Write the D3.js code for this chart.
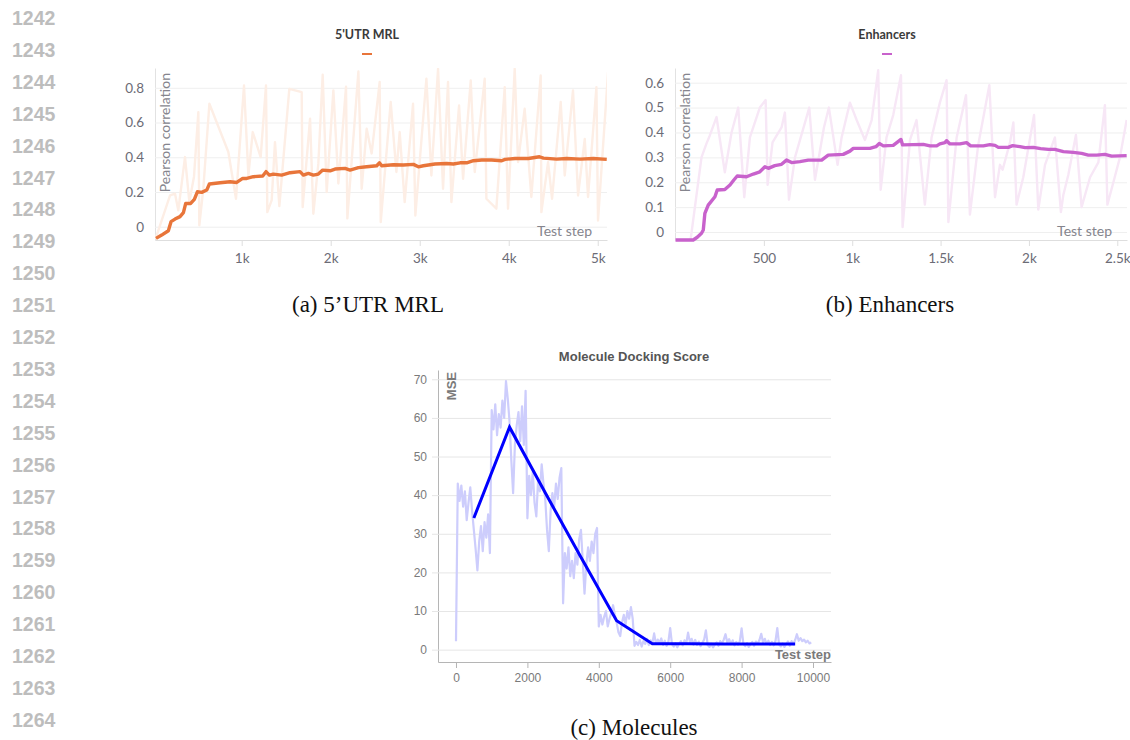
<!DOCTYPE html>
<html>
<head>
  <meta charset="utf-8">
  <title>Test step curves</title>
  <script src="https://cdn.jsdelivr.net/npm/d3@7"></script>
  <style>
    body { margin: 0; background: #fff; }
    .lineno { font-family: "Liberation Sans", Arial, sans-serif; font-weight: bold; font-size: 19.5px; fill: #bdbdbd; }
    .caption { font-family: "Liberation Serif", "Times New Roman", serif; font-size: 23px; fill: #111; }
    .wb text { font-family: Lato, "Noto Sans", sans-serif; }
    .wb .tick text { font-size: 13.5px; fill: #6c6c76; }
    .wb .title { font-size: 12.5px; font-weight: bold; fill: #3a3a3a; }
    .wb .axis-label { font-size: 14px; fill: #85858d; }
    .mol text { font-family: "Liberation Sans", Arial, sans-serif; }
    .mol .tick text { font-size: 12px; fill: #7a7a7a; }
    .mol .title { font-size: 13px; font-weight: bold; fill: #555; }
    .mol .axis-label { font-size: 13px; font-weight: bold; fill: #7a7a7a; }
  </style>
</head>
<body>
<div class="container"></div>
<script>
'use strict';
var width = 1130;
var height = 740;

// ---- 5'UTR MRL (smoothed + raw) ----
var utrSteps = [37, 101, 176, 206, 251, 307, 345, 371, 427, 468, 502, 551, 607, 637, 757, 869, 944, 1011, 1056, 1131,
  1236, 1273, 1311, 1356, 1449, 1543, 1655, 1693, 1749, 1805, 1861, 1910, 1993, 2049, 2161, 2217, 2311, 2404, 2517, 2547,
  2573, 2704, 2816, 2929, 2985, 3041, 3172, 3303, 3378, 3453, 3528, 3603, 3697, 3809, 3921, 3959, 4071, 4221, 4345, 4390,
  4539, 4652, 4801, 4951, 5101];
var utrValues = [-0.067, -0.048, -0.023, 0.029, 0.044, 0.058, 0.081, 0.134, 0.134, 0.157, 0.201, 0.198, 0.211, 0.246, 0.253, 0.259, 0.255, 0.278, 0.278, 0.288,
  0.292, 0.317, 0.297, 0.303, 0.297, 0.311, 0.317, 0.297, 0.307, 0.297, 0.303, 0.326, 0.322, 0.332, 0.336, 0.326, 0.340, 0.345, 0.351, 0.368,
  0.351, 0.357, 0.355, 0.359, 0.345, 0.351, 0.361, 0.364, 0.361, 0.368, 0.368, 0.380, 0.384, 0.384, 0.380, 0.388, 0.393, 0.393, 0.403, 0.395,
  0.389, 0.393, 0.389, 0.393, 0.388];
var utrRawSteps = [7, 45, 195, 251, 288, 363, 412, 464, 513, 524, 569, 637, 850, 936, 1026, 1075, 1124, 1213, 1273, 1288,
  1337, 1374, 1423, 1535, 1674, 1685, 1768, 1805, 1861, 1910, 1955, 2030, 2086, 2172, 2187, 2311, 2348, 2404, 2460, 2550,
  2562, 2674, 2738, 2775, 2831, 2925, 2951, 3075, 3131, 3206, 3262, 3318, 3356, 3442, 3487, 3573, 3618, 3730, 3749, 3861,
  3955, 3992, 4067, 4105, 4179, 4254, 4359, 4367, 4442, 4487, 4584, 4629, 4722, 4779, 4854, 4891, 4985, 5003, 5116];
var utrRawValues = [-0.077, -0.050, 0.180, 0.190, 0.094, 0.401, 0.142, 0.288, 0.660, 0.008, 0.219, 0.708, 0.430, 0.161, 0.813, 0.295, 0.545, 0.401, 0.813, 0.084,
  0.153, 0.487, 0.119, 0.794, 0.775, 0.113, 0.622, 0.075, 0.363, 0.875, 0.200, 0.785, 0.249, 0.806, 0.048, 0.894, 0.219, 0.564, 0.422, 0.833,
  0.027, 0.718, 0.315, 0.545, 0.142, 0.708, 0.065, 0.852, 0.295, 0.909, 0.219, 0.833, 0.142, 0.698, 0.276, 0.842, 0.315, 0.852, 0.161, 0.104,
  0.804, 0.104, 0.909, 0.372, 0.679, 0.171, 0.871, 0.084, 0.372, 0.161, 0.718, 0.295, 0.785, 0.180, 0.506, 0.171, 0.804, 0.036, 0.890];
var utrXTicks = [1000, 2000, 3000, 4000, 5000];
var utrYTicks = [0, 0.2, 0.4, 0.6, 0.8];

// ---- Enhancers (smoothed + raw) ----
var enhSteps = [0, 100, 123, 147, 157, 166, 185, 223, 236, 279, 308, 330, 349, 402, 440, 477, 506, 525, 562, 600,
  628, 657, 704, 751, 827, 864, 949, 987, 1006, 1100, 1134, 1153, 1176, 1232, 1276, 1285, 1345, 1402, 1440, 1478,
  1496, 1525, 1534, 1553, 1610, 1647, 1670, 1742, 1779, 1808, 1827, 1883, 1908, 1949, 1978, 2025, 2066, 2110, 2147, 2195,
  2251, 2298, 2336, 2383, 2430, 2468, 2553];
var enhValues = [-0.032, -0.032, -0.021, -0.005, 0.008, 0.075, 0.108, 0.142, 0.169, 0.171, 0.189, 0.209, 0.225, 0.222, 0.233, 0.242, 0.262, 0.256, 0.267, 0.272,
  0.289, 0.279, 0.283, 0.289, 0.289, 0.309, 0.312, 0.325, 0.336, 0.336, 0.343, 0.356, 0.346, 0.348, 0.372, 0.350, 0.351, 0.352, 0.346, 0.346,
  0.354, 0.359, 0.367, 0.354, 0.354, 0.359, 0.346, 0.346, 0.351, 0.348, 0.340, 0.340, 0.347, 0.343, 0.339, 0.340, 0.335, 0.332, 0.332, 0.323,
  0.320, 0.316, 0.309, 0.309, 0.312, 0.305, 0.307];
var enhRawSteps = [0, 85, 147, 175, 194, 232, 279, 317, 355, 389, 421, 477, 510, 521, 549, 600, 619, 642, 676, 757,
  789, 840, 868, 917, 940, 987, 1025, 1072, 1110, 1147, 1161, 1194, 1232, 1276, 1285, 1327, 1364, 1411, 1449, 1496,
  1534, 1544, 1591, 1644, 1666, 1713, 1776, 1808, 1836, 1851, 1893, 1912, 1930, 1968, 2029, 2053, 2091, 2147, 2181, 2195,
  2223, 2266, 2298, 2346, 2393, 2430, 2444, 2478, 2515, 2553];
var enhRawValues = [-0.032, -0.032, 0.300, 0.355, 0.388, 0.462, 0.240, 0.400, 0.500, 0.140, 0.380, 0.500, 0.530, 0.190, 0.360, 0.420, 0.480, 0.130, 0.300, 0.500,
  0.210, 0.420, 0.500, 0.270, 0.380, 0.520, 0.450, 0.370, 0.450, 0.650, 0.170, 0.380, 0.470, 0.630, 0.020, 0.370, 0.450, 0.110, 0.380, 0.520,
  0.610, 0.040, 0.380, 0.550, 0.070, 0.350, 0.590, 0.140, 0.270, 0.250, 0.360, 0.440, 0.110, 0.220, 0.470, 0.090, 0.270, 0.380, 0.080, 0.150,
  0.230, 0.390, 0.100, 0.220, 0.280, 0.510, 0.110, 0.200, 0.300, 0.450];
var enhXTicks = [500, 1000, 1500, 2000, 2500];
var enhYTicks = [0, 0.1, 0.2, 0.3, 0.4, 0.5, 0.6];

// ---- Molecule docking score ----
var dockRawEvery = 50; // raw MSE logged every 50 test steps
var dockRaw = [2.2, 43, 38.5, 42.5, 37, 41, 33.5, 38, 42, 36, 31, 26, 20.5, 28, 32, 25.5, 33, 29, 35, 25,
  62, 57, 63.5, 55.5, 61, 57.5, 64.5, 60, 69.5, 65, 59, 49, 40.5, 53, 58, 61.5, 54, 63, 53, 67,
  34, 45, 40, 46, 38, 34.5, 44, 41, 48, 43, 39, 31, 25.5, 36, 40.5, 37, 43, 39, 44.5, 47,
  12, 25, 21, 26.5, 19, 23, 18.5, 25, 22, 28.5, 31, 23, 14.5, 22, 26.5, 23, 28, 25, 30, 31.5,
  6, 9, 6.5, 8.5, 10, 6, 8, 9.5, 11.5, 9, 7, 4.5, 3.5, 7, 9, 6.5, 10, 8, 11, 8,
  1, 2, 1.2, 2.5, 0.8, 2.2, 1.5, 2.8, 1.2, 2.4, 1.6, 4.2, 1.5, 2.6, 1.8, 2.9, 1.2, 2.3, 1.0, 2.1,
  5.6, 1.4, 0.8, 1.6, 0.6, 1.5, 2.2, 1.1, 2.4, 1.6, 4.4, 2.0, 2.8, 1.3, 2.5, 1.2, 2.1, 0.9, 1.8, 2.6,
  5.0, 1.2, 0.7, 1.5, 0.6, 1.3, 1.9, 1.0, 2.2, 1.6, 2.6, 4.0, 1.8, 2.7, 1.4, 2.4, 1.1, 2.0, 1.3, 2.2,
  5.5, 1.5, 0.9, 1.7, 0.7, 1.4, 2.0, 1.0, 2.1, 1.5, 2.5, 4.1, 1.9, 2.8, 1.5, 2.3, 1.2, 2.0, 1.1, 2.3,
  5.6, 1.3, 0.8, 1.6, 0.7, 1.5, 2.1, 1.0, 2.2, 1.4, 2.5, 4.0, 2.3, 3.0, 2.2, 2.6, 1.9, 2.3, 1.6, 1.9];
var dockMeanSteps = [500, 1500, 2500, 3500, 4500, 5500, 6500, 7500, 8500, 9500];
var dockMean = [34.1, 57.6, 40.6, 23.9, 7.5, 1.5, 1.5, 1.45, 1.45, 1.45];
var dockXTicks = [0, 2000, 4000, 6000, 8000, 10000];
var dockYTicks = [0, 10, 20, 30, 40, 50, 60, 70];

var lineNumbers = d3.range(1242, 1265);
var captions = [
  { text: '(a) 5\u2019UTR MRL', x: 368, y: 312 },
  { text: '(b) Enhancers', x: 890, y: 312 },
  { text: '(c) Molecules', x: 634, y: 735 }
];

var svg = d3.select('.container')
  .append('svg')
  .attr('width', width)
  .attr('height', height)
  .style('display', 'block');

svg.append('rect').attr('width', width).attr('height', height).attr('fill', '#fff');

// margin line numbers
svg.selectAll('text.lineno')
  .data(lineNumbers)
  .enter().append('text')
  .attr('class', 'lineno')
  .attr('x', 12)
  .attr('y', function (d, i) { return 25 + i * 31.9; })
  .text(function (d) { return d; });

svg.selectAll('text.caption')
  .data(captions)
  .enter().append('text')
  .attr('class', 'caption')
  .attr('text-anchor', 'middle')
  .attr('x', function (d) { return d.x; })
  .attr('y', function (d) { return d.y; })
  .text(function (d) { return d.text; });

function zip(xs, ys) {
  return xs.map(function (s, i) { return [s, ys[i]]; });
}

// wandb style panel
function wandbPanel(o) {
  var g = svg.append('g').attr('class', 'wb');
  var x = d3.scaleLinear().domain(o.xDomain).range([o.left, o.right]);
  var y = d3.scaleLinear().domain(o.yDomain).range([o.bottom, o.top]);

  g.append('text').attr('class', 'title')
    .attr('x', o.titleX).attr('y', 39).attr('text-anchor', 'middle').text(o.title);
  g.append('line')
    .attr('x1', o.titleX - 5).attr('x2', o.titleX + 5)
    .attr('y1', 54).attr('y2', 54)
    .attr('stroke', o.color).attr('stroke-width', 2);

  var yAxis = g.append('g')
    .attr('transform', 'translate(' + o.left + ',0)')
    .call(d3.axisLeft(y).tickValues(o.yTicks).tickSize(-(o.right - o.left)).tickSizeOuter(0)
      .tickPadding(11).tickFormat(function (d) { return d === 0 ? '0' : d3.format('.1f')(d); }));
  yAxis.select('.domain').attr('stroke', '#e2e2e2');
  yAxis.selectAll('.tick line').attr('stroke', '#efefef');

  var xAxis = g.append('g')
    .attr('transform', 'translate(0,' + o.bottom + ')')
    .call(d3.axisBottom(x).tickValues(o.xTicks).tickSize(6).tickSizeOuter(0).tickPadding(7)
      .tickFormat(function (d) { return d < 1000 ? d : (d / 1000) + 'k'; }));
  xAxis.select('.domain').attr('stroke', '#dedede');
  xAxis.selectAll('.tick line').attr('stroke', '#dedede');

  var clipId = 'clip-' + o.key;
  svg.append('clipPath').attr('id', clipId).append('rect')
    .attr('x', o.left).attr('y', o.top)
    .attr('width', o.right - o.left).attr('height', o.bottom - o.top + 2);

  var line = d3.line().x(function (d) { return x(d[0]); }).y(function (d) { return y(d[1]); });
  var plot = g.append('g').attr('clip-path', 'url(#' + clipId + ')');
  plot.append('path').datum(o.raw)
    .attr('d', line).attr('fill', 'none')
    .attr('stroke', o.faint).attr('stroke-width', 2.4).attr('stroke-linejoin', 'round');
  plot.append('path').datum(o.smooth)
    .attr('d', line).attr('fill', 'none')
    .attr('stroke', o.color).attr('stroke-width', 3.4).attr('stroke-linejoin', 'round');

  g.append('text').attr('class', 'axis-label')
    .attr('transform', 'translate(' + (o.left + 15) + ',' + (o.top + 5) + ') rotate(-90)')
    .attr('text-anchor', 'end').text('Pearson correlation');
  g.append('text').attr('class', 'axis-label')
    .attr('x', o.right - 15).attr('y', o.bottom - 4)
    .attr('text-anchor', 'end').text('Test step');
}

wandbPanel({
  key: 'utr', title: "5'UTR MRL", titleX: 367,
  left: 155, right: 607, top: 68, bottom: 240,
  xDomain: [26, 5104], yDomain: [-0.0765, 0.914],
  xTicks: utrXTicks, yTicks: utrYTicks,
  color: '#e8753a', faint: '#fdeee5',
  smooth: zip(utrSteps, utrValues), raw: zip(utrRawSteps, utrRawValues)
});

wandbPanel({
  key: 'enh', title: 'Enhancers', titleX: 887,
  left: 675, right: 1127, top: 68, bottom: 240,
  xDomain: [-3, 2555], yDomain: [-0.032, 0.659],
  xTicks: enhXTicks, yTicks: enhYTicks,
  color: '#c862cc', faint: '#f7e7f6',
  smooth: zip(enhSteps, enhValues), raw: zip(enhRawSteps, enhRawValues)
});

// molecule docking panel
(function () {
  var left = 438, right = 831, top = 370, bottom = 662;
  var g = svg.append('g').attr('class', 'mol');
  var x = d3.scaleLinear().domain([-504, 10504]).range([left, right]);
  var y = d3.scaleLinear().domain([-3.2, 72.4]).range([bottom, top]);

  g.append('text').attr('class', 'title')
    .attr('x', 634).attr('y', 361).attr('text-anchor', 'middle').text('Molecule Docking Score');

  var yAxis = g.append('g')
    .attr('transform', 'translate(' + left + ',0)')
    .call(d3.axisLeft(y).tickValues(dockYTicks).tickSize(-(right - left)).tickSizeOuter(0).tickPadding(11));
  yAxis.select('.domain').attr('stroke', '#b5b5b5');
  yAxis.selectAll('.tick line').attr('stroke', '#e6e6e6').attr('x1', -6);

  var xAxis = g.append('g')
    .attr('transform', 'translate(0,' + bottom + ')')
    .call(d3.axisBottom(x).tickValues(dockXTicks).tickSize(6).tickSizeOuter(0).tickPadding(5)
      .tickFormat(d3.format('d')));
  xAxis.select('.domain').attr('stroke', '#b5b5b5');
  xAxis.selectAll('.tick line').attr('stroke', '#b5b5b5');

  var line = d3.line().x(function (d) { return x(d[0]); }).y(function (d) { return y(d[1]); });
  var raw = dockRaw.map(function (v, i) { return [i * dockRawEvery, v]; });
  g.append('path').datum(raw)
    .attr('d', line).attr('fill', 'none')
    .attr('stroke', '#cdcdfc').attr('stroke-width', 2.2).attr('stroke-linejoin', 'round');
  g.append('path').datum(zip(dockMeanSteps, dockMean))
    .attr('d', line).attr('fill', 'none')
    .attr('stroke', '#0000ff').attr('stroke-width', 3);

  g.append('text').attr('class', 'axis-label')
    .attr('transform', 'translate(' + (left + 18) + ',' + (top + 2) + ') rotate(-90)')
    .attr('text-anchor', 'end').text('MSE');
  g.append('text').attr('class', 'axis-label')
    .attr('x', right).attr('y', bottom - 3)
    .attr('text-anchor', 'end').text('Test step');
})();
</script>
</body>
</html>
